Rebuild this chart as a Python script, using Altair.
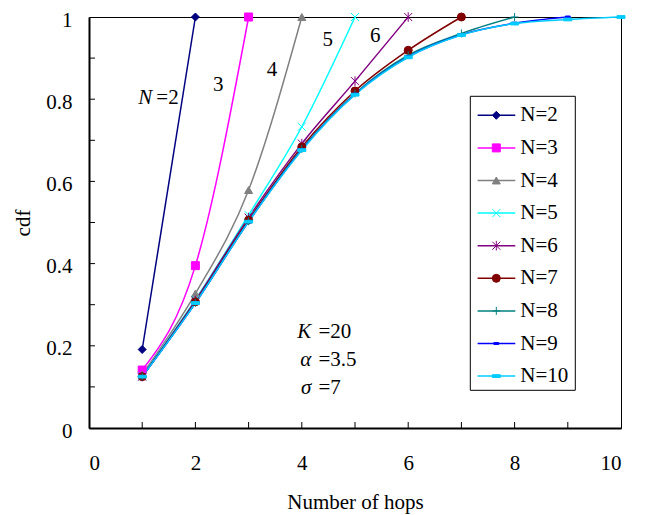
import altair as alt
import pandas as pd

# ---------------- data ----------------
labels = ["N=2", "N=3", "N=4", "N=5", "N=6", "N=7", "N=8", "N=9", "N=10"]
hops = [1, 2, 3, 4, 5, 6, 7, 8, 9, 10]
N2 = [0.191, 1.0]
N3 = [0.141, 0.395, 1.0]
N4 = [0.130, 0.327, 0.579, 1.0]
N5 = [0.126, 0.312, 0.518, 0.733, 1.0]
N6 = [0.125, 0.310, 0.512, 0.692, 0.844, 1.0]
N7 = [0.125, 0.307, 0.506, 0.684, 0.820, 0.919, 1.0]
N8 = [0.125, 0.305, 0.503, 0.679, 0.814, 0.907, 0.960, 1.0]
N9 = [0.125, 0.304, 0.502, 0.677, 0.812, 0.903, 0.957, 0.985, 1.0]
N10 = [0.125, 0.304, 0.502, 0.676, 0.811, 0.902, 0.956, 0.984, 0.994, 1.0]
series = [N2, N3, N4, N5, N6, N7, N8, N9, N10]

colors = ["#000080", "#FF00FF", "#808080", "#00FFFF", "#800080",
          "#800000", "#008080", "#0000FF", "#00CCFF"]
shapes = ["diamond", "square", "triangle-up",
          "M-1,-1L1,1M-1,1L1,-1",
          "M-1,-1L1,1M-1,1L1,-1M0,-1.2L0,1.2",
          "circle",
          "M-1,0L1,0M0,-1L0,1",
          "M-0.6,-0.25L0.6,-0.25L0.6,0.25L-0.6,0.25Z",
          "M-1,-0.35L1,-0.35L1,0.35L-1,0.35Z"]

x_ticks = [1, 2, 3, 4, 5, 6, 7, 8, 9]
y_ticks = [0.1, 0.2, 0.3, 0.4, 0.5, 0.6, 0.7, 0.8, 0.9]
x_labels = [0, 2, 4, 6, 8, 10]
y_labels = [0, 0.2, 0.4, 0.6, 0.8, 1.0]

# curve annotations
ann_text = ["3", "4", "5", "6"]
ann_x = [2.43, 3.44, 4.49, 5.38]
ann_y = [0.820, 0.856, 0.9295, 0.939]
n_label_x = [1.19]
n_label_y = [0.788]

# parameter block
par_sym = ["K", "α", "σ"]
par_val = ["=20", "=3.5", "=7"]
par_x = [4.18, 4.18, 4.18]
par_y = [0.2188, 0.1507, 0.0827]

FONT = "Times New Roman, Liberation Serif, Times, serif"
FS = 21
W, H = 532, 411

rows = []
for lab, vals in zip(labels, series):
    for h, v in zip(hops, vals):
        rows.append({"series": lab, "hops": h, "cdf": v})
df = pd.DataFrame(rows)

color_scale = alt.Scale(domain=labels, range=colors)
shape_scale = alt.Scale(domain=labels, range=shapes)
xs = alt.Scale(domain=[0, 10], nice=False)
ys = alt.Scale(domain=[0, 1], nice=False)

base = alt.Chart(df)

lines = base.mark_line(interpolate="monotone", strokeWidth=1.5).encode(
    x=alt.X("hops:Q", scale=xs,
            axis=alt.Axis(values=x_labels, title="Number of hops",
                          titleY=80, titleBaseline="alphabetic",
                          labelBaseline="alphabetic", labelPadding=41)),
    y=alt.Y("cdf:Q", scale=ys,
            axis=alt.Axis(values=y_labels, format=".1~f", title="cdf",
                          titleX=-60, titleY=205.5, titleBaseline="alphabetic",
                          labelPadding=17, labelOffset=3)),
    color=alt.Color("series:N", scale=color_scale, legend=None),
    detail="series:N",
)

points = base.mark_point(filled=True, size=64, strokeWidth=1, opacity=1).encode(
    x=alt.X("hops:Q", scale=xs),
    y=alt.Y("cdf:Q", scale=ys),
    fill=alt.Fill("series:N", scale=color_scale, legend=None),
    stroke=alt.Stroke("series:N", scale=color_scale, legend=None),
    shape=alt.Shape("series:N", scale=shape_scale, legend=None),
)

xt = alt.Chart(pd.DataFrame({"v": x_ticks})).mark_rule(color="black", strokeWidth=1).encode(
    x=alt.X("v:Q", scale=xs), y=alt.value(H), y2=alt.value(H - 6))
yt = alt.Chart(pd.DataFrame({"v": y_ticks})).mark_rule(color="black", strokeWidth=1).encode(
    y=alt.Y("v:Q", scale=ys), x=alt.value(0), x2=alt.value(6))

ann = alt.Chart(pd.DataFrame({"t": ann_text, "x": ann_x, "y": ann_y})).mark_text(
    font=FONT, fontSize=FS, color="black", baseline="alphabetic", align="center"
).encode(x=alt.X("x:Q", scale=xs), y=alt.Y("y:Q", scale=ys), text="t:N")

ndf = pd.DataFrame({"x": n_label_x, "y": n_label_y, "a": ["N"], "b": ["=2"]})
n_it = alt.Chart(ndf).mark_text(font=FONT, fontSize=FS, fontStyle="italic", color="black",
                                baseline="alphabetic", align="right").encode(
    x=alt.X("x:Q", scale=xs), y=alt.Y("y:Q", scale=ys), text="a:N")
n_rest = alt.Chart(ndf).mark_text(font=FONT, fontSize=FS, color="black",
                                  baseline="alphabetic", align="left", dx=4).encode(
    x=alt.X("x:Q", scale=xs), y=alt.Y("y:Q", scale=ys), text="b:N")

pdf = pd.DataFrame({"s": par_sym, "v": par_val, "x": par_x, "y": par_y})
p_it = alt.Chart(pdf).mark_text(font=FONT, fontSize=FS, fontStyle="italic", color="black",
                                baseline="alphabetic", align="right").encode(
    x=alt.X("x:Q", scale=xs), y=alt.Y("y:Q", scale=ys), text="s:N")
p_rest = alt.Chart(pdf).mark_text(font=FONT, fontSize=FS, color="black",
                                  baseline="alphabetic", align="left", dx=7).encode(
    x=alt.X("x:Q", scale=xs), y=alt.Y("y:Q", scale=ys), text="v:N")

main = alt.layer(lines, points, xt, yt, ann, n_it, n_rest, p_it, p_rest)

# ---------------- manual legend ----------------
ldf = pd.DataFrame({"series": labels, "i": list(range(len(labels)))})
ly = alt.Y("i:Q", scale=alt.Scale(domain=[0, 8], range=[98.3, 359.1]), axis=None)
box = alt.Chart(pd.DataFrame({"a": [0]})).mark_rect(
    fill="white", stroke="black", strokeWidth=1).encode(
    x=alt.value(381.3), x2=alt.value(486.3), y=alt.value(79.3), y2=alt.value(373.3))
l_lines = alt.Chart(ldf).mark_rule(strokeWidth=1.5).encode(
    x=alt.value(388.6), x2=alt.value(426.3), y=ly,
    color=alt.Color("series:N", scale=color_scale, legend=None))
l_pts = alt.Chart(ldf).mark_point(filled=True, size=64, strokeWidth=1, opacity=1).encode(
    x=alt.value(407.3), y=ly,
    fill=alt.Fill("series:N", scale=color_scale, legend=None),
    stroke=alt.Stroke("series:N", scale=color_scale, legend=None),
    shape=alt.Shape("series:N", scale=shape_scale, legend=None))
l_txt = alt.Chart(ldf).mark_text(font=FONT, fontSize=FS, color="black",
                                 align="left", baseline="middle").encode(
    x=alt.value(431.3), y=ly, text="series:N")
legend = alt.layer(box, l_lines, l_pts, l_txt)

chart = alt.layer(main, legend).resolve_scale(y="independent").properties(
    width=W, height=H,
    padding={"left": 81, "top": 9, "right": 20, "bottom": 100},
    autosize=alt.AutoSizeParams(type="none"),
).configure_view(stroke="black", strokeWidth=1).configure_axis(
    domainColor="black", domainWidth=2, ticks=False, tickSize=0, grid=False,
    labelFont=FONT, labelFontSize=FS, labelColor="black",
    titleFont=FONT, titleFontSize=FS, titleColor="black", titleFontWeight="normal",
)

chart.save("out.html", embed_options={"renderer": "svg", "actions": False})
